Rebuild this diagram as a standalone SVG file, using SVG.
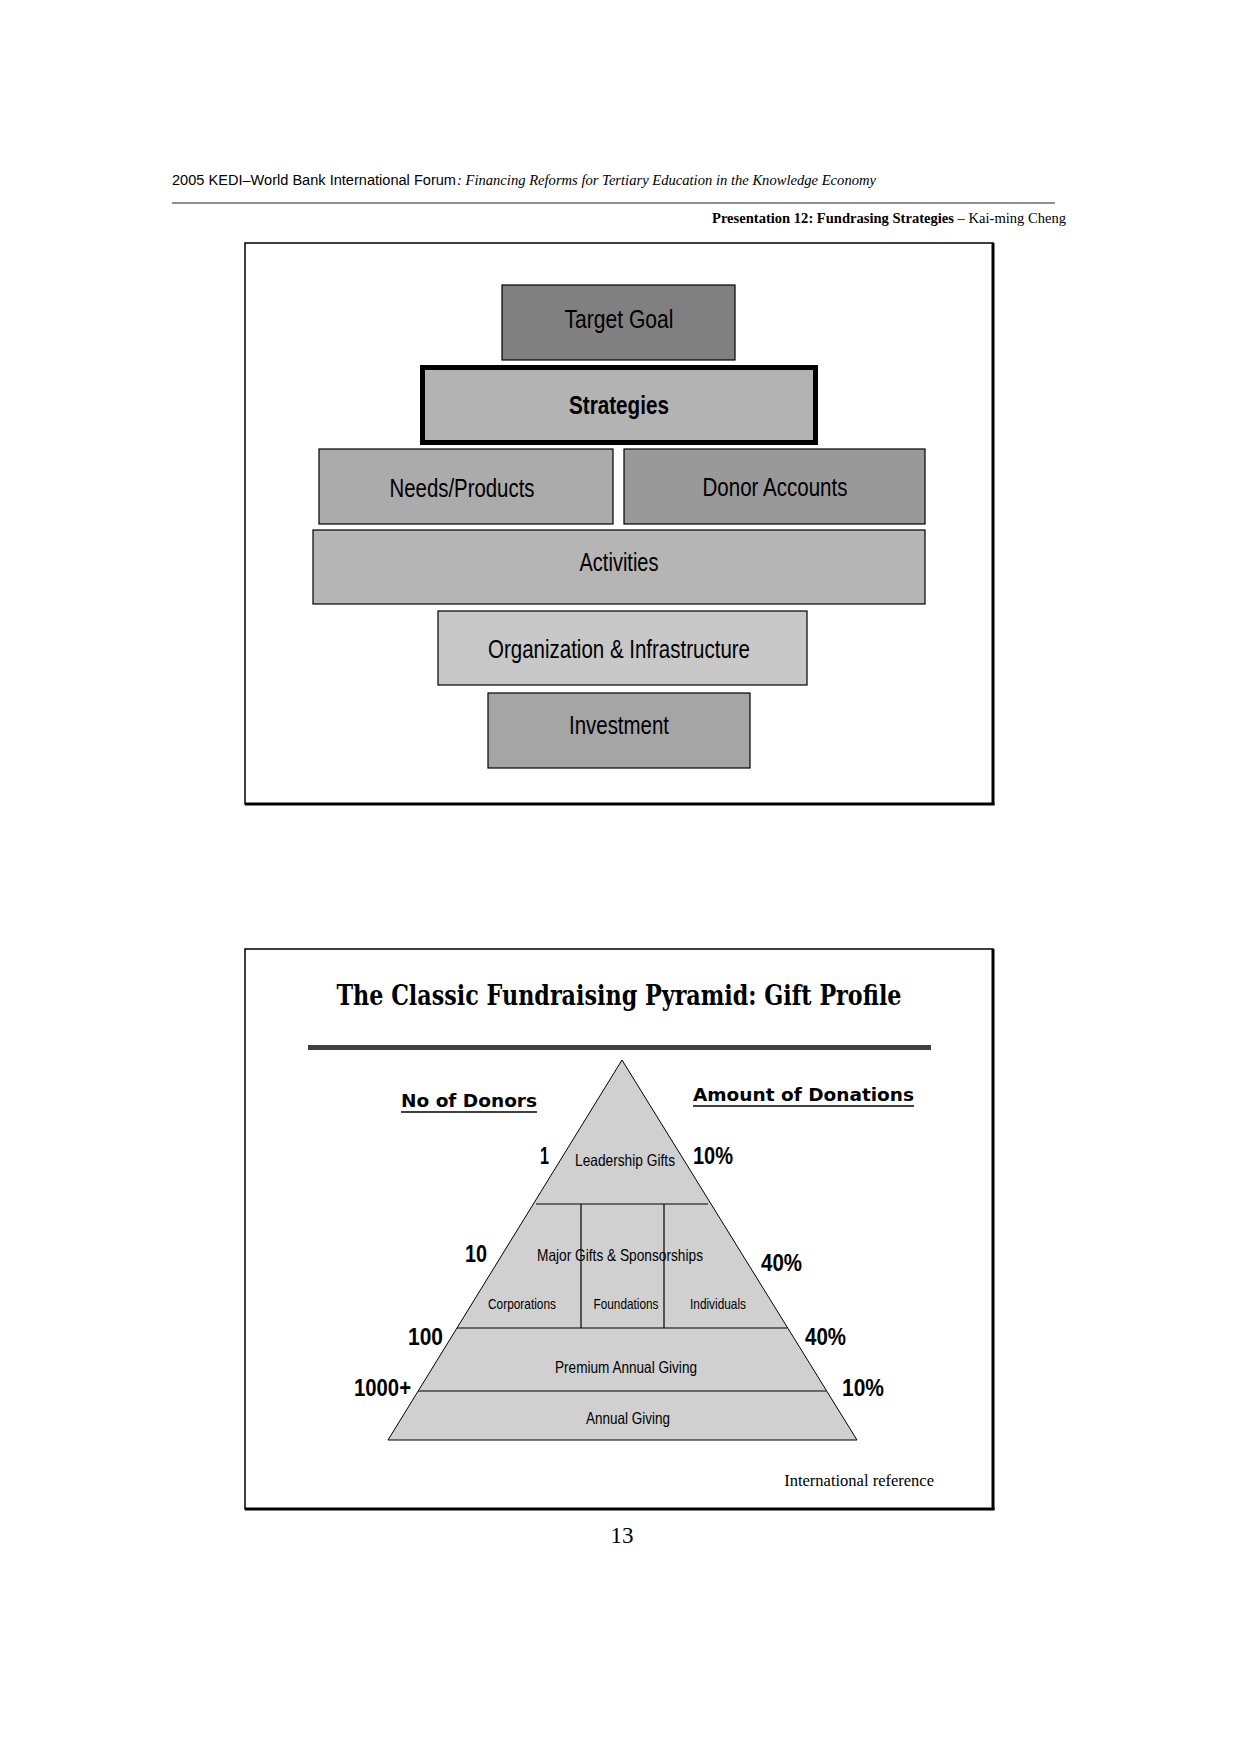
<svg xmlns="http://www.w3.org/2000/svg" width="1240" height="1755" viewBox="0 0 1240 1755">
<style>
.nar{font-family:"Liberation Sans",Arial,sans-serif;}
.box{stroke:#000;stroke-width:1.2;}
.bl{font-size:25px;text-anchor:middle;fill:#000;}
.pl{font-size:16.5px;text-anchor:middle;fill:#000;}
.ps{font-size:14.5px;text-anchor:middle;fill:#000;}
.num{font-size:24px;font-weight:bold;fill:#000;}
.tri{fill:#d0d0d0;stroke:#000;stroke-width:1;}
.ln{stroke:#000;stroke-width:1.2;}
</style>
<rect width="1240" height="1755" fill="#fff"/>
<g id="header">
<text x="172" y="185" font-family="Liberation Sans, Arial, sans-serif" font-size="14" textLength="284" lengthAdjust="spacingAndGlyphs">2005 KEDI–World Bank International Forum</text>
<text x="457" y="185" font-family="Liberation Serif, Times New Roman, serif" font-style="italic" font-size="14" textLength="419" lengthAdjust="spacingAndGlyphs">: Financing Reforms for Tertiary Education in the Knowledge Economy</text>
<line x1="172" y1="203" x2="1055" y2="203" stroke="#222" stroke-width="1"/>
<text x="712" y="223" font-family="Liberation Serif, Times New Roman, serif" font-size="14.5" textLength="354" lengthAdjust="spacingAndGlyphs"><tspan font-weight="bold">Presentation 12: Fundrasing Strategies</tspan> – Kai-ming Cheng</text>
</g>
<g id="frame1">
<rect x="245" y="243" width="748" height="561" fill="#fff" stroke="#000" stroke-width="1.5"/>
<line x1="993" y1="243" x2="993" y2="805" stroke="#000" stroke-width="3"/>
<line x1="245" y1="804" x2="994.5" y2="804" stroke="#000" stroke-width="3"/>
</g>
<g id="target-goal">
<rect class="box" x="502" y="285" width="233" height="75" fill="#808080"/>
<text class="nar bl" x="619" y="328" textLength="109" lengthAdjust="spacingAndGlyphs">Target Goal</text>
</g>
<g id="strategies">
<rect x="422.5" y="367.5" width="393" height="75" fill="#b3b3b3" stroke="#000" stroke-width="5"/>
<text class="nar bl" x="619" y="414" font-weight="bold" textLength="100" lengthAdjust="spacingAndGlyphs">Strategies</text>
</g>
<g id="needs-products">
<rect class="box" x="319" y="449" width="294" height="75" fill="#ababab"/>
<text class="nar bl" x="462" y="497" textLength="145" lengthAdjust="spacingAndGlyphs">Needs/Products</text>
</g>
<g id="donor-accounts">
<rect class="box" x="624" y="449" width="301" height="75" fill="#999999"/>
<text class="nar bl" x="775" y="496" textLength="145" lengthAdjust="spacingAndGlyphs">Donor Accounts</text>
</g>
<g id="activities">
<rect class="box" x="313" y="530" width="612" height="74" fill="#b5b5b5"/>
<text class="nar bl" x="619" y="571" textLength="79" lengthAdjust="spacingAndGlyphs">Activities</text>
</g>
<g id="organization">
<rect class="box" x="438" y="611" width="369" height="74" fill="#c8c8c8"/>
<text class="nar bl" x="619" y="658" textLength="262" lengthAdjust="spacingAndGlyphs">Organization &amp; Infrastructure</text>
</g>
<g id="investment">
<rect class="box" x="488" y="693" width="262" height="75" fill="#a5a5a5"/>
<text class="nar bl" x="619" y="734" textLength="100" lengthAdjust="spacingAndGlyphs">Investment</text>
</g>
<g id="connectors"></g>
<g id="frame2">
<rect x="245" y="949" width="748" height="560" fill="#fff" stroke="#000" stroke-width="1.5"/>
<line x1="993" y1="949" x2="993" y2="1510" stroke="#000" stroke-width="3"/>
<line x1="245" y1="1509" x2="994.5" y2="1509" stroke="#000" stroke-width="3"/>
<text x="619" y="1005" text-anchor="middle" font-family="DejaVu Serif, serif" font-weight="bold" font-size="28" textLength="565" lengthAdjust="spacingAndGlyphs">The Classic Fundraising Pyramid: Gift Profile</text>
<rect x="308" y="1045" width="623" height="5" fill="#404040"/>
</g>
<g id="pyramid">
<polygon class="tri" points="622,1060 388,1440 857,1440"/>
<line class="ln" x1="536" y1="1204" x2="708" y2="1204"/>
<line class="ln" x1="457" y1="1328" x2="787" y2="1328"/>
<line class="ln" x1="418" y1="1391" x2="826" y2="1391"/>
<line class="ln" x1="581" y1="1204" x2="581" y2="1328"/>
<line class="ln" x1="664" y1="1204" x2="664" y2="1328"/>
<text class="nar pl" x="625" y="1166" textLength="100" lengthAdjust="spacingAndGlyphs">Leadership Gifts</text>
<text class="nar pl" x="620" y="1261" textLength="166" lengthAdjust="spacingAndGlyphs">Major Gifts &amp; Sponsorships</text>
<text class="nar ps" x="522" y="1309" textLength="68" lengthAdjust="spacingAndGlyphs">Corporations</text>
<text class="nar ps" x="626" y="1309" textLength="65" lengthAdjust="spacingAndGlyphs">Foundations</text>
<text class="nar ps" x="718" y="1309" textLength="56" lengthAdjust="spacingAndGlyphs">Individuals</text>
<text class="nar pl" x="626" y="1373" textLength="142" lengthAdjust="spacingAndGlyphs">Premium Annual Giving</text>
<text class="nar pl" x="628" y="1424" textLength="84" lengthAdjust="spacingAndGlyphs">Annual Giving</text>
</g>
<g id="labels">
<text x="401" y="1107" font-family="DejaVu Sans, sans-serif" font-weight="bold" font-size="18.5" textLength="136" lengthAdjust="spacingAndGlyphs">No of Donors</text>
<line x1="401" y1="1112" x2="537" y2="1112" stroke="#000" stroke-width="1.5"/>
<text x="693" y="1101" font-family="DejaVu Sans, sans-serif" font-weight="bold" font-size="18.5" textLength="221" lengthAdjust="spacingAndGlyphs">Amount of Donations</text>
<line x1="693" y1="1106" x2="914" y2="1106" stroke="#000" stroke-width="1.5"/>
<text class="nar num" x="540" y="1164" textLength="9" lengthAdjust="spacingAndGlyphs">1</text>
<text class="nar num" x="693" y="1164" textLength="40" lengthAdjust="spacingAndGlyphs">10%</text>
<text class="nar num" x="465" y="1262" textLength="22" lengthAdjust="spacingAndGlyphs">10</text>
<text class="nar num" x="761" y="1271" textLength="41" lengthAdjust="spacingAndGlyphs">40%</text>
<text class="nar num" x="408" y="1345" textLength="35" lengthAdjust="spacingAndGlyphs">100</text>
<text class="nar num" x="805" y="1345" textLength="41" lengthAdjust="spacingAndGlyphs">40%</text>
<text class="nar num" x="354" y="1396" textLength="57" lengthAdjust="spacingAndGlyphs">1000+</text>
<text class="nar num" x="842" y="1396" textLength="42" lengthAdjust="spacingAndGlyphs">10%</text>
<text x="934" y="1486" text-anchor="end" font-family="Liberation Serif, Times New Roman, serif" font-size="16.5">International reference</text>
</g>
<text x="622" y="1543" text-anchor="middle" font-family="Liberation Serif, Times New Roman, serif" font-size="23">13</text>
</svg>
